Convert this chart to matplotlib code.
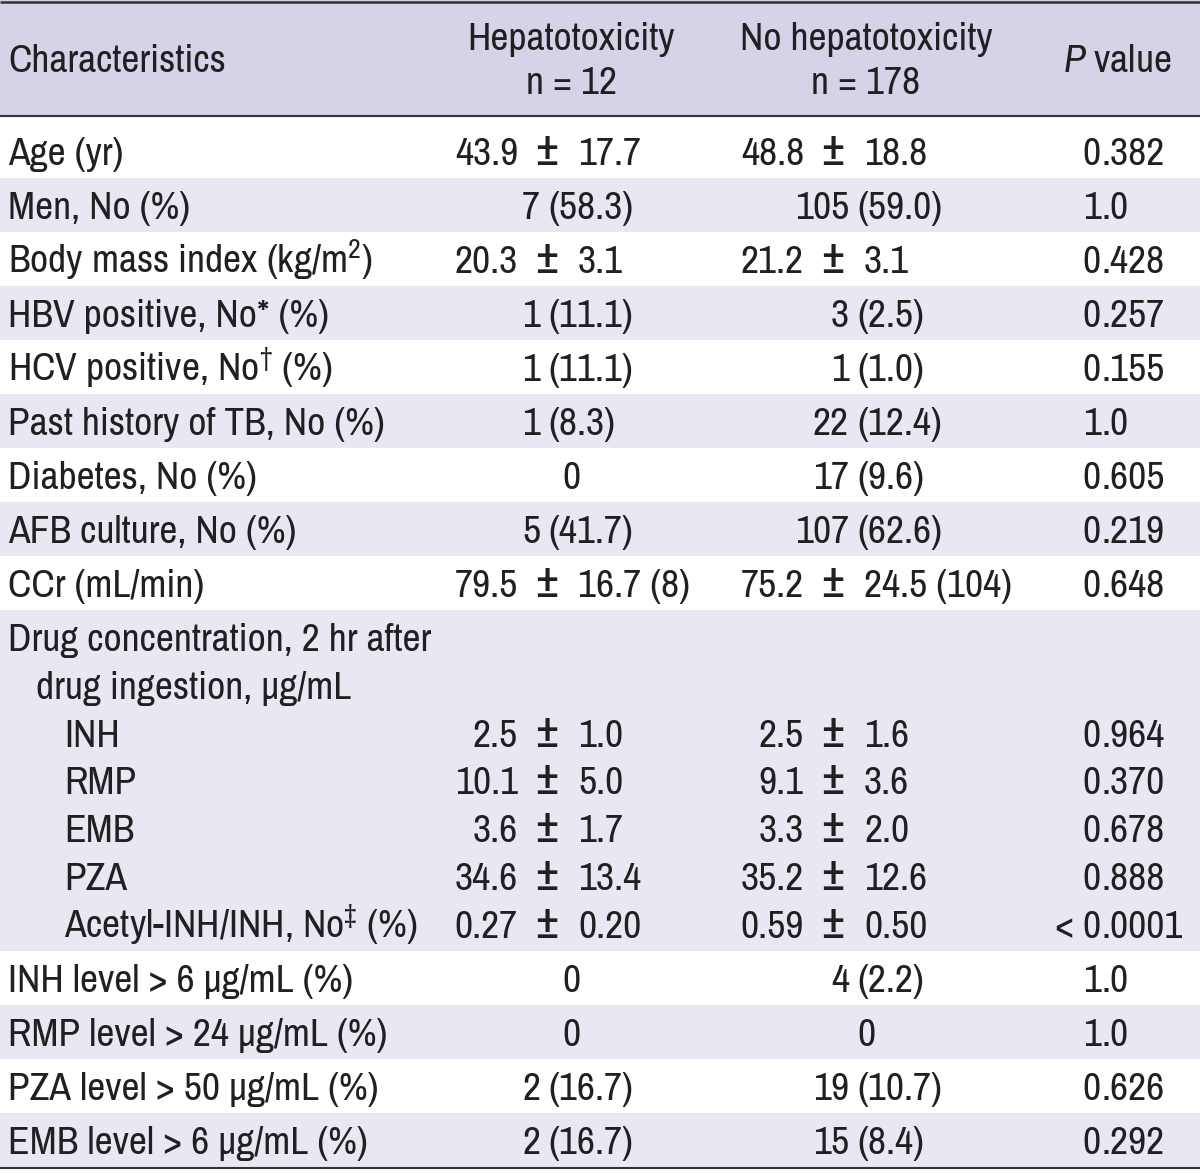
import matplotlib
matplotlib.use("Agg")
import matplotlib.pyplot as plt
from matplotlib import font_manager

names = {f.name for f in font_manager.fontManager.ttflist}
PREFS = ["Archivo Narrow", "Roboto Condensed", "PT Sans Narrow", "Fira Sans Condensed",
         "IBM Plex Sans Condensed", "Liberation Sans"]
FONT = next(n for n in PREFS if n in names)

plt.rcParams["font.family"] = [FONT, "DejaVu Sans"]
plt.rcParams["mathtext.fontset"] = "custom"
plt.rcParams["mathtext.rm"] = FONT
plt.rcParams["mathtext.it"] = FONT + ":italic"
plt.rcParams["mathtext.default"] = "regular"

# ---------------- data ----------------
header_cols = ["Characteristics", "Hepatotoxicity\nn = 12", "No hepatotoxicity\nn = 178", r"$\mathit{P}$ value"]

labels = [
    "Age (yr)",
    "Men, No (%)",
    r"Body mass index (kg/m$^2$)",
    "HBV positive, No* (%)",
    r"HCV positive, No$^{†}$ (%)",
    "Past history of TB, No (%)",
    "Diabetes, No (%)",
    "AFB culture, No (%)",
    "CCr (mL/min)",
    "Drug concentration, 2 hr after",
    "drug ingestion, μg/mL",
    "INH",
    "RMP",
    "EMB",
    "PZA",
    r"Acetyl-INH/INH, No$^{‡}$ (%)",
    "INH level > 6 μg/mL (%)",
    "RMP level > 24 μg/mL (%)",
    "PZA level > 50 μg/mL (%)",
    "EMB level > 6 μg/mL (%)",
]
hepato = ["43.9 ± 17.7", "7 (58.3)", "20.3 ± 3.1", "1 (11.1)", "1 (11.1)", "1 (8.3)", "0",
          "5 (41.7)", "79.5 ± 16.7 (8)", "", "", "2.5 ± 1.0", "10.1 ± 5.0", "3.6 ± 1.7",
          "34.6 ± 13.4", "0.27 ± 0.20", "0", "0", "2 (16.7)", "2 (16.7)"]
no_hepato = ["48.8 ± 18.8", "105 (59.0)", "21.2 ± 3.1", "3 (2.5)", "1 (1.0)", "22 (12.4)", "17 (9.6)",
             "107 (62.6)", "75.2 ± 24.5 (104)", "", "", "2.5 ± 1.6", "9.1 ± 3.6", "3.3 ± 2.0",
             "35.2 ± 12.6", "0.59 ± 0.50", "4 (2.2)", "0", "19 (10.7)", "15 (8.4)"]
p_values = ["0.382", "1.0", "0.428", "0.257", "0.155", "1.0", "0.605", "0.219", "0.648", "", "",
            "0.964", "0.370", "0.678", "0.888", "< 0.0001", "1.0", "1.0", "0.626", "0.292"]
indent = [0, 0, 0, 0, 0, 0, 0, 0, 0, 0, 1, 2, 2, 2, 2, 2, 0, 0, 0, 0]
# group id of each line (lines of the same group share one band)
group = [0, 1, 2, 3, 4, 5, 6, 7, 8, 9, 9, 9, 9, 9, 9, 9, 10, 11, 12, 13]

# ---------------- layout ----------------
W, H = 1200, 1174
HEADER_BG = "#d4d3e7"
STRIPE_BG = "#e8e8f3"
TXT = "#231f20"
LINE = "#333333"
FS = 28.5

fig = plt.figure(figsize=(W / 100, H / 100), dpi=100)
ax = fig.add_axes([0, 0, 1, 1])
ax.set_xlim(0, W)
ax.set_ylim(H, 0)
ax.axis("off")

header_bottom = 117
first_pad = 7
row_h = 54
block_line_h = 47.8

y_lines = []
bands = {}
y = header_bottom + first_pad
for i, g in enumerate(group):
    members = [j for j, gg in enumerate(group) if gg == g]
    if len(members) > 1:
        k = members.index(i)
        if k == 0:
            top = y
            bands[g] = (top, top + row_h + (len(members) - 1) * block_line_h)
        y_lines.append(bands[g][0] + row_h / 2 + k * block_line_h)
        if k == len(members) - 1:
            y = bands[g][1]
    else:
        bands[g] = (header_bottom if i == 0 else y, y + row_h)
        y_lines.append(y + row_h / 2)
        y = y + row_h

ax.add_patch(plt.Rectangle((0, 0), W, header_bottom, color=HEADER_BG, lw=0, zorder=0))
for g, (t, b) in bands.items():
    if g % 2 == 1:
        ax.add_patch(plt.Rectangle((0, t), W, b - t, color=STRIPE_BG, lw=0, zorder=0))

bottom = max(b for t, b in bands.values())
ax.plot([0, W], [1.5, 1.5], color=LINE, lw=1.8, solid_capstyle="butt")
ax.plot([0, W], [header_bottom - 1, header_bottom - 1], color=LINE, lw=1.5, solid_capstyle="butt")
ax.plot([0, W], [bottom + 1, bottom + 1], color=LINE, lw=1.5, solid_capstyle="butt")

BASE = 14  # baseline offset below line centre


def put(x, y, s, ha, fs=FS):
    ax.text(x, y + BASE, s, ha=ha, fontsize=fs, color=TXT, va="baseline")


# header
col_x = [8, 571, 866, 1117]
put(col_x[0], 58, header_cols[0], "left")
for j in (1, 2):
    l1, l2 = header_cols[j].split("\n")
    put(col_x[j], 36, l1, "center")
    put(col_x[j], 80, l2, "center")
put(col_x[3], 58, header_cols[3], "center")

pm_x = [547, 833]
paren_x = [548, 857]
ctr_x = [571, 866]
dec_x = 1101
indent_px = [8, 36, 64]


def draw_value(s, y, c):
    if not s:
        return
    if "±" in s:
        a, b = s.split(" ± ", 1)
        put(pm_x[c] - 29, y, a, "right")
        put(pm_x[c], y, "±", "center", fs=FS * 1.25)
        put(pm_x[c] + 31, y, b, "left")
    elif " (" in s:
        a, b = s.split(" (", 1)
        put(paren_x[c] - 8, y, a, "right")
        put(paren_x[c], y, "(" + b, "left")
    else:
        put(ctr_x[c], y, s, "center")


for i, lab in enumerate(labels):
    yy = y_lines[i]
    put(indent_px[indent[i]], yy, lab, "left")
    draw_value(hepato[i], yy, 0)
    draw_value(no_hepato[i], yy, 1)
    p = p_values[i]
    if p:
        a, b = p.split(".", 1)
        put(dec_x, yy, a, "right")
        put(dec_x, yy, "." + b, "left")

fig.savefig("out.png", dpi=100, facecolor="white")
